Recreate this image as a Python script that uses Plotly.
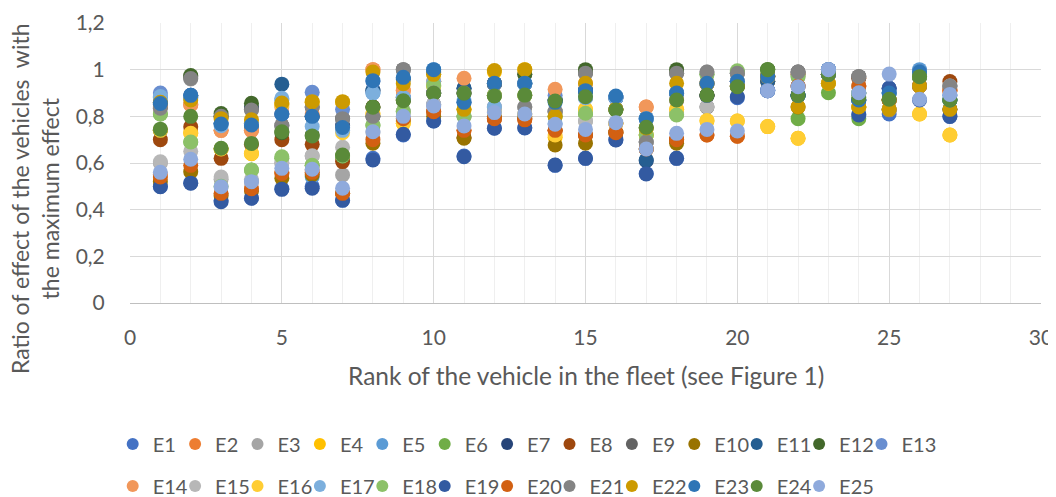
import plotly.graph_objects as go

# rank of the vehicle in the fleet
ranks = list(range(1, 28))

# ratio of effect per series (E1..E25)
e1 = [0.50, 0.515, 0.44, 0.45, 0.49, 0.50, 0.44, 0.62, 0.72, 0.78, 0.63, 0.75, 0.75, 0.59, 0.62, 0.70, 0.555, 0.62, 0.89, 0.88, 0.91, 0.89, 1.0, 0.81, 0.81, 0.99, 0.80]
e2 = [0.55, 0.85, 0.74, 0.74, 0.56, 0.57, 0.47, 1.0, 0.91, 0.95, 0.74, 0.79, 0.79, 0.74, 0.72, 0.73, 0.84, 0.70, 0.72, 0.715, 0.97, 0.93, 0.98, 0.93, 0.87, 0.93, 0.91]
e3 = [0.60, 0.96, 0.53, 0.52, 0.60, 0.63, 0.549, 0.80, 0.82, 0.85, 0.80, 0.84, 0.84, 0.82, 0.78, 0.77, 0.69, 0.81, 0.99, 0.985, 0.97, 0.99, 1.0, 0.97, 0.83, 0.97, 0.93]
e4 = [0.74, 0.73, 0.66, 0.64, 0.85, 0.86, 0.86, 0.81, 0.77, 0.98, 0.83, 0.99, 1.0, 0.71, 0.83, 0.77, 0.72, 0.83, 0.78, 0.78, 0.756, 0.706, 0.942, 0.84, 0.87, 0.81, 0.72]
e5 = [0.88, 0.88, 0.77, 0.76, 0.87, 0.541, 0.75, 0.90, 0.96, 1.0, 0.86, 0.94, 0.94, 0.87, 0.91, 0.88, 0.79, 0.90, 0.94, 0.95, 0.97, 0.89, 1.0, 0.87, 0.90, 1.0, 0.87]
e6 = [0.81, 0.69, 0.66, 0.57, 0.62, 0.59, 0.63, 0.76, 0.87, 0.93, 0.80, 0.89, 0.89, 0.80, 0.81, 0.83, 0.72, 0.81, 0.98, 0.99, 1.0, 0.79, 0.901, 0.79, 0.87, 0.97, 0.87]
e7 = [0.85, 0.89, 0.80, 0.84, 0.81, 0.80, 0.76, 0.91, 0.88, 0.90, 0.92, 0.94, 0.94, 0.87, 0.91, 0.88, 0.61, 0.90, 0.89, 0.93, 0.95, 0.89, 1.0, 0.87, 0.92, 0.99, 0.83]
e8 = [0.70, 0.755, 0.62, 0.68, 0.70, 0.68, 0.606, 0.84, 0.87, 0.82, 0.71, 0.79, 0.79, 0.74, 0.72, 0.73, 0.66, 0.70, 0.89, 0.93, 0.97, 0.98, 0.98, 0.963, 0.87, 0.93, 0.949]
e9 = [0.84, 0.97, 0.80, 0.83, 0.76, 0.84, 0.79, 0.80, 1.0, 0.90, 0.90, 0.94, 0.98, 0.82, 0.985, 0.83, 0.69, 0.985, 0.84, 0.985, 0.97, 0.99, 0.98, 0.97, 0.83, 0.97, 0.93]
e10 = [0.52, 0.563, 0.46, 0.48, 0.535, 0.55, 0.47, 0.685, 0.78, 0.80, 0.706, 0.80, 0.80, 0.677, 0.685, 0.73, 0.66, 0.685, 0.89, 0.93, 0.95, 0.84, 0.942, 0.84, 0.83, 0.93, 0.83]
e11 = [0.86, 0.885, 0.77, 0.76, 0.938, 0.80, 0.75, 0.913, 0.96, 0.99, 0.92, 0.94, 0.94, 0.87, 0.91, 0.88, 0.613, 0.90, 0.94, 0.95, 0.95, 0.89, 0.98, 0.87, 0.90, 0.99, 0.87]
e12 = [0.74, 0.975, 0.812, 0.856, 0.73, 0.72, 0.63, 0.84, 0.87, 0.90, 0.90, 0.89, 0.98, 0.87, 1.0, 0.83, 0.75, 1.0, 0.89, 0.93, 1.0, 0.89, 0.98, 0.90, 0.87, 0.97, 0.87]
e13 = [0.90, 0.89, 0.77, 0.77, 0.81, 0.903, 0.83, 0.95, 0.88, 0.85, 0.86, 0.84, 0.81, 0.89, 0.88, 0.88, 0.79, 0.87, 0.94, 0.95, 0.91, 0.93, 1.0, 0.90, 0.92, 0.99, 0.89]
e14 = [0.84, 0.85, 0.74, 0.74, 0.84, 0.81, 0.75, 1.0, 0.91, 0.95, 0.963, 0.89, 0.89, 0.916, 0.94, 0.77, 0.84, 0.87, 0.94, 0.95, 0.97, 0.93, 0.98, 0.93, 0.87, 0.93, 0.91]
e15 = [0.605, 0.65, 0.54, 0.53, 0.60, 0.631, 0.667, 0.73, 0.82, 0.85, 0.80, 0.84, 0.84, 0.82, 0.78, 0.77, 0.69, 0.81, 0.841, 0.985, 0.97, 0.97, 0.98, 0.93, 0.83, 0.93, 0.93]
e16 = [0.74, 0.727, 0.66, 0.642, 0.85, 0.86, 0.73, 0.814, 0.77, 0.93, 0.83, 0.82, 0.81, 0.72, 0.83, 0.77, 0.72, 0.83, 0.782, 0.78, 0.756, 0.706, 0.942, 0.84, 0.83, 0.81, 0.72]
e17 = [0.885, 0.88, 0.76, 0.77, 0.877, 0.756, 0.74, 0.90, 0.88, 0.95, 0.87, 0.84, 0.94, 0.77, 0.88, 0.88, 0.79, 0.90, 0.94, 0.95, 0.91, 0.93, 1.0, 0.90, 0.90, 0.99, 0.89]
e18 = [0.81, 0.69, 0.50, 0.57, 0.627, 0.59, 0.63, 0.763, 0.82, 0.934, 0.80, 0.89, 0.89, 0.80, 0.813, 0.83, 0.72, 0.806, 0.98, 0.995, 0.97, 0.97, 0.98, 0.90, 0.87, 0.97, 0.87]
e19 = [0.498, 0.513, 0.434, 0.449, 0.487, 0.492, 0.441, 0.613, 0.723, 0.78, 0.627, 0.749, 0.751, 0.591, 0.62, 0.699, 0.553, 0.62, 0.89, 0.884, 0.91, 0.89, 0.98, 0.806, 0.92, 0.87, 0.799]
e20 = [0.54, 0.59, 0.47, 0.49, 0.555, 0.56, 0.47, 0.70, 0.79, 0.82, 0.74, 0.79, 0.785, 0.74, 0.72, 0.73, 0.66, 0.70, 0.72, 0.715, 0.97, 0.93, 0.98, 0.93, 0.87, 0.93, 0.91]
e21 = [0.835, 0.962, 0.80, 0.827, 0.76, 0.84, 0.79, 0.80, 1.0, 0.90, 0.90, 0.94, 0.84, 0.82, 0.985, 0.83, 0.69, 0.985, 0.99, 0.985, 0.97, 0.99, 0.98, 0.97, 0.827, 0.93, 0.93]
e22 = [0.86, 0.87, 0.79, 0.785, 0.857, 0.863, 0.863, 0.99, 0.94, 0.98, 0.83, 0.996, 1.0, 0.80, 0.942, 0.83, 0.75, 0.942, 0.94, 0.93, 0.97, 0.841, 0.942, 0.84, 0.83, 0.93, 0.83]
e23 = [0.855, 0.89, 0.767, 0.763, 0.81, 0.80, 0.752, 0.953, 0.967, 1.0, 0.86, 0.942, 0.942, 0.86, 0.91, 0.887, 0.79, 0.90, 0.942, 0.95, 0.97, 0.89, 0.98, 0.87, 0.90, 0.99, 0.87]
e24 = [0.745, 0.80, 0.663, 0.684, 0.734, 0.716, 0.634, 0.839, 0.867, 0.899, 0.899, 0.887, 0.891, 0.866, 0.884, 0.827, 0.753, 0.87, 0.891, 0.927, 1.0, 0.89, 0.98, 0.88, 0.873, 0.97, 0.87]
e25 = [0.56, 0.616, 0.498, 0.52, 0.577, 0.573, 0.492, 0.734, 0.80, 0.844, 0.759, 0.816, 0.81, 0.766, 0.744, 0.773, 0.66, 0.727, 0.744, 0.737, 0.91, 0.927, 1.0, 0.901, 0.981, 0.873, 0.894]

series = [e1, e2, e3, e4, e5, e6, e7, e8, e9, e10, e11, e12, e13,
          e14, e15, e16, e17, e18, e19, e20, e21, e22, e23, e24, e25]
names = ["E%d" % (i + 1) for i in range(25)]

# Office theme cycle
colors = ["#4472C4", "#ED7D31", "#A5A5A5", "#FFC000", "#5B9BD5", "#70AD47",
          "#264478", "#9E480E", "#636363", "#997300", "#255E91", "#43682B",
          "#698ED0", "#F1975A", "#B7B7B7", "#FFCD33", "#7CAFDD", "#8CC168",
          "#335AA1", "#D26012", "#848484", "#CC9A00", "#2E75B6", "#5A8A39",
          "#8FAADC"]

FONT = "Lato, Roboto, sans-serif"
GREY = "#595959"

# page body keeps an 8px margin, so the figure is a bit smaller than the window
W, H = 1048, 489

fig = go.Figure()
for i, (name, vals) in enumerate(zip(names, series)):
    fig.add_trace(go.Scatter(
        x=ranks, y=vals, name=name, mode="markers",
        marker=dict(size=15, color=colors[i]),
        legend="legend" if i < 13 else "legend2",
    ))

# empty spacer entries so the last label of each row isn't clipped
for lg in ["legend", "legend2"]:
    fig.add_trace(go.Scatter(
        x=[None], y=[None], name=" ", mode="markers",
        marker=dict(size=1, color="rgba(0,0,0,0)"),
        legend=lg, hoverinfo="skip",
    ))

legend_style = dict(
    orientation="h", xref="container", yref="container",
    x=104.7 / W, xanchor="left", yanchor="middle",
    entrywidth=17.4, entrywidthmode="pixels",
    itemsizing="constant", tracegroupgap=0,
    font=dict(family=FONT, size=20, color=GREY),
    bgcolor="rgba(0,0,0,0)",
)

fig.update_layout(
    width=W, height=H,
    margin=dict(l=122, r=15, t=15, b=194, autoexpand=False),
    paper_bgcolor="white", plot_bgcolor="white",
    separators=",.",
    showlegend=True,
    legend=dict(legend_style, y=1 - 436 / H),
    legend2=dict(legend_style, y=1 - 478 / H),
    xaxis=dict(
        range=[0, 30], dtick=5, tick0=0,
        showgrid=True, gridcolor="#D9D9D9", gridwidth=1,
        minor=dict(dtick=1, showgrid=True, gridcolor="#EFEFEF", gridwidth=1),
        zeroline=False, showline=True, linecolor="#BFBFBF", linewidth=1,
        ticks="outside", ticklen=16, tickcolor="rgba(0,0,0,0)",
        tickfont=dict(family=FONT, size=21, color=GREY),
    ),
    yaxis=dict(
        range=[0, 1.2], dtick=0.2, tick0=0,
        showgrid=True, gridcolor="#D9D9D9", gridwidth=1,
        zeroline=False, showline=False,
        ticks="outside", ticklen=20, tickcolor="rgba(0,0,0,0)",
        tickfont=dict(family=FONT, size=21, color=GREY),
    ),
    annotations=[
        dict(text="Rank of the vehicle in the fleet (see Figure 1)",
             xref="paper", yref="paper", x=0.5, y=(303 - 375) / 280,
             xanchor="center", yanchor="middle", showarrow=False,
             font=dict(family=FONT, size=24.5, color=GREY)),
        dict(text="Ratio of effect of the vehicles  with<br>the maximum effect",
             xref="paper", yref="paper", x=(35 - 130) / 911, y=(303 - 199) / 280,
             xanchor="center", yanchor="middle", showarrow=False,
             textangle=-90,
             font=dict(family=FONT, size=23, color=GREY)),
    ],
)

fig.write_html("out.html")
